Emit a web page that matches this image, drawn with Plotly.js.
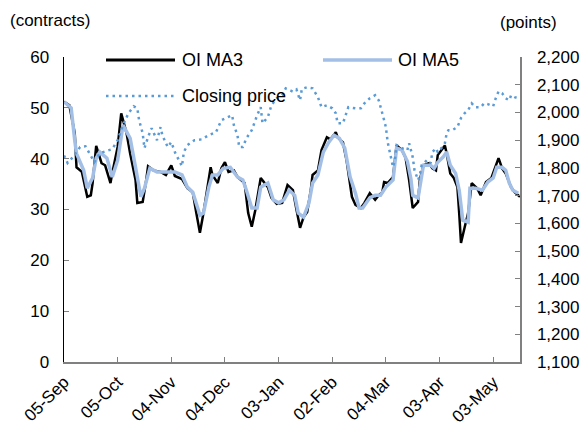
<!DOCTYPE html>
<html>
<head>
<meta charset="utf-8">
<script src="https://cdn.plot.ly/plotly-3.0.1.min.js"></script>
<style>html,body{margin:0;padding:0;background:#fff;}#chart{width:584px;height:427px;}</style>
</head>
<body>
<div id="chart"></div>
<script>
// ---- Data ----
var ma3Dates = ['2012-09-05','2012-09-08','2012-09-11','2012-09-12','2012-09-15','2012-09-18','2012-09-20','2012-09-21','2012-09-23','2012-09-26','2012-09-28','2012-10-01','2012-10-02','2012-10-05','2012-10-07','2012-10-10','2012-10-12','2012-10-15','2012-10-16','2012-10-19','2012-10-21','2012-10-22','2012-10-25','2012-10-29','2012-11-01','2012-11-04','2012-11-06','2012-11-10','2012-11-13','2012-11-16','2012-11-18','2012-11-20','2012-11-22','2012-11-24','2012-11-26','2012-11-27','2012-11-30','2012-12-02','2012-12-04','2012-12-06','2012-12-09','2012-12-11','2012-12-14','2012-12-15','2012-12-17','2012-12-19','2012-12-21','2012-12-23','2012-12-24','2012-12-28','2012-12-30','2013-01-02','2013-01-05','2013-01-08','2013-01-11','2013-01-13','2013-01-15','2013-01-17','2013-01-19','2013-01-21','2013-01-22','2013-01-25','2013-01-27','2013-01-30','2013-02-01','2013-02-04','2013-02-05','2013-02-08','2013-02-10','2013-02-13','2013-02-15','2013-02-18','2013-02-20','2013-02-23','2013-02-26','2013-02-28','2013-03-02','2013-03-03','2013-03-05','2013-03-08','2013-03-10','2013-03-13','2013-03-15','2013-03-17','2013-03-19','2013-03-22','2013-03-23','2013-03-25','2013-03-28','2013-03-30','2013-04-01','2013-04-02','2013-04-05','2013-04-06','2013-04-07','2013-04-09','2013-04-11','2013-04-13','2013-04-14','2013-04-15','2013-04-17','2013-04-19','2013-04-21','2013-04-24','2013-04-26','2013-04-29','2013-05-02','2013-05-04','2013-05-06','2013-05-08','2013-05-10','2013-05-13','2013-05-15','2013-05-18'];
var ma3Values = [51.2,50.5,45,38.3,37.4,32.5,32.8,35.2,42.5,39.1,38.7,35.2,37.2,42.3,48.9,45,41,35.8,31.3,31.5,35.8,38.5,37.7,37.4,36.8,38.7,36.6,36.0,34.2,33.4,29.3,25.4,29.3,33.8,38.3,36.8,35.2,38.1,39.3,37.4,37.7,36.4,35.4,35.2,29.3,26.6,29.9,34.4,36.2,34.4,32.3,31.1,31.3,34.8,33.8,30,26.4,28.5,29.5,33.8,36.8,37.7,41.7,44.2,43.8,45.2,44.2,43.2,39.7,32.5,30.9,30.3,31.3,33.2,31.9,32.8,33.4,35.4,35.2,36.4,42.6,41.7,40.2,35.8,30.3,31.5,35.8,38.7,39.1,38.1,37.7,40.7,42.3,42.6,41,37.1,36.2,34.4,29.3,23.4,26.4,29.3,35.2,34.2,32.8,35.4,36.2,38.1,40.1,38.1,37.1,34.4,33.4,32.5];

var ma5Dates = ['2012-09-05','2012-09-09','2012-09-11','2012-09-12','2012-09-16','2012-09-18','2012-09-21','2012-09-23','2012-09-25','2012-09-29','2012-10-02','2012-10-05','2012-10-08','2012-10-12','2012-10-15','2012-10-18','2012-10-20','2012-10-23','2012-10-27','2012-11-02','2012-11-06','2012-11-10','2012-11-13','2012-11-16','2012-11-20','2012-11-22','2012-11-25','2012-11-27','2012-11-30','2012-12-03','2012-12-07','2012-12-11','2012-12-14','2012-12-16','2012-12-19','2012-12-22','2012-12-24','2012-12-28','2012-12-31','2013-01-03','2013-01-06','2013-01-09','2013-01-12','2013-01-14','2013-01-17','2013-01-20','2013-01-22','2013-01-25','2013-01-28','2013-01-31','2013-02-03','2013-02-06','2013-02-09','2013-02-12','2013-02-15','2013-02-17','2013-02-19','2013-02-23','2013-02-26','2013-03-01','2013-03-04','2013-03-08','2013-03-10','2013-03-13','2013-03-16','2013-03-18','2013-03-19','2013-03-22','2013-03-24','2013-03-25','2013-03-29','2013-03-31','2013-04-02','2013-04-05','2013-04-07','2013-04-09','2013-04-12','2013-04-14','2013-04-16','2013-04-19','2013-04-20','2013-04-23','2013-04-27','2013-04-30','2013-05-03','2013-05-05','2013-05-08','2013-05-10','2013-05-12','2013-05-14','2013-05-17'];
var ma5Values = [51.2,50,43.6,41,37.7,34.2,36.2,40.1,41.3,40.1,36.4,39.7,46.6,44,38.3,32.5,34.2,38.1,37.4,37.4,37.4,36.8,34.4,33.4,28.9,29.3,34.4,36.8,36.8,38.1,38.3,36.4,35.8,33.8,30.3,30.3,34.4,35.2,31.9,31.3,31.9,33.8,32.8,29.3,28.5,31.3,35.2,36.8,41.3,43.2,44.6,44,42.1,36.4,33.2,30.3,30.3,32.3,32.8,32.8,34.4,35.8,42.1,41.7,39.5,36,32.8,32.3,36.4,38.7,38.7,38.1,39.3,40.3,41.3,38.7,37.1,33.8,27.9,27.5,34.2,34.2,33.8,35.4,36.2,38.3,38.3,37.7,35.2,33.8,33.2];

var closeDates = ['2012-09-05','2012-09-07','2012-09-10','2012-09-14','2012-09-17','2012-09-20','2012-09-22','2012-09-25','2012-09-29','2012-10-02','2012-10-05','2012-10-08','2012-10-11','2012-10-14','2012-10-16','2012-10-17','2012-10-19','2012-10-20','2012-10-22','2012-10-24','2012-10-27','2012-10-29','2012-10-30','2012-11-02','2012-11-04','2012-11-06','2012-11-09','2012-11-10','2012-11-11','2012-11-13','2012-11-17','2012-11-21','2012-11-25','2012-11-29','2012-12-02','2012-12-08','2012-12-09','2012-12-11','2012-12-12','2012-12-14','2012-12-16','2012-12-19','2012-12-22','2012-12-24','2012-12-25','2012-12-28','2012-12-30','2013-01-02','2013-01-05','2013-01-07','2013-01-11','2013-01-13','2013-01-15','2013-01-16','2013-01-19','2013-01-22','2013-01-25','2013-01-27','2013-01-30','2013-02-02','2013-02-04','2013-02-05','2013-02-08','2013-02-10','2013-02-11','2013-02-15','2013-02-18','2013-02-20','2013-02-23','2013-02-26','2013-02-28','2013-03-02','2013-03-04','2013-03-05','2013-03-07','2013-03-08','2013-03-09','2013-03-10','2013-03-13','2013-03-16','2013-03-17','2013-03-19','2013-03-20','2013-03-21','2013-03-22','2013-03-23','2013-03-24','2013-03-27','2013-03-29','2013-03-30','2013-04-01','2013-04-02','2013-04-04','2013-04-06','2013-04-07','2013-04-08','2013-04-10','2013-04-13','2013-04-15','2013-04-17','2013-04-19','2013-04-21','2013-04-23','2013-04-26','2013-04-28','2013-04-30','2013-05-03','2013-05-04','2013-05-06','2013-05-08','2013-05-10','2013-05-12','2013-05-13','2013-05-15','2013-05-17'];
var closeValues = [1845,1818,1839,1875,1878,1846,1821,1853,1861,1868,1900,1954,1997,2022,2015,1972,1925,1871,1911,1943,1900,1947,1918,1875,1893,1857,1818,1806,1857,1882,1900,1903,1918,1929,1972,1990,1954,1918,1875,1875,1907,1936,1990,2019,1961,1983,2026,2051,2062,2087,2075,2083,2044,2085,2091,2087,2055,2019,2026,2015,1997,1961,1961,2001,2019,2015,2015,2033,2051,2062,2044,1997,1947,1893,1839,1803,1828,1882,1871,1864,1889,1839,1792,1774,1756,1774,1810,1828,1817,1857,1871,1857,1871,1889,1925,1936,1936,1947,1980,1997,2008,2033,2019,2019,2033,2030,2022,2044,2076,2069,2051,2044,2062,2055,2051];

var tickDates = ['2012-09-05','2012-10-05','2012-11-04','2012-12-04','2013-01-03','2013-02-02','2013-03-04','2013-04-03','2013-05-03'];
var tickLabels = ['05-Sep','05-Oct','04-Nov','04-Dec','03-Jan','02-Feb','04-Mar','03-Apr','03-May'];
var seriesNames = ['OI MA3','OI MA5','Closing price'];

// ---- Styles ----
var C_MA3 = '#000000', C_MA5 = '#a3bfe6', C_CLOSE = '#5b9bd5';
var FONT = 'Liberation Sans, Arial, sans-serif';

var traces = [
  {x: ma3Dates, y: ma3Values, name: seriesNames[0], type: 'scatter', mode: 'lines', yaxis: 'y',
   line: {color: C_MA3, width: 2.5}},
  {x: ma5Dates, y: ma5Values, name: seriesNames[1], type: 'scatter', mode: 'lines', yaxis: 'y',
   line: {color: C_MA5, width: 3.5}},
  {x: closeDates, y: closeValues, name: seriesNames[2], type: 'scatter', mode: 'lines', yaxis: 'y2',
   line: {color: C_CLOSE, width: 2.5, dash: '2.5px,4px'}}
];

function px2x(p){ return (p-64)/456; }
function py2y(p){ return (362.5-p)/305.5; }

var layout = {
  width: 584, height: 427,
  margin: {l: 64, r: 64, t: 57, b: 65, pad: 0},
  paper_bgcolor: '#fff', plot_bgcolor: '#fff',
  showlegend: false,
  font: {family: FONT, size: 17, color: '#000'},
  xaxis: {
    type: 'date', range: ['2012-09-05','2013-05-18'],
    tickmode: 'array', tickvals: tickDates, ticktext: tickLabels, tickangle: -45,
    ticks: 'inside', ticklen: 5, tickcolor: '#808080',
    showline: true, linecolor: '#808080', linewidth: 1.5, showgrid: false, zeroline: false,
    ticklabelstandoff: 2,
    tickfont: {family: FONT, size: 17, color: '#000'}
  },
  yaxis: {
    range: [0, 60], tickvals: [0,10,20,30,40,50,60],
    ticks: 'inside', ticklen: 5, tickcolor: '#808080',
    showline: true, linecolor: '#000', linewidth: 1.5, showgrid: false, zeroline: false,
    ticklabelstandoff: 10,
    tickfont: {family: FONT, size: 17, color: '#000'}
  },
  yaxis2: {
    overlaying: 'y', side: 'right', range: [1100, 2200],
    tickvals: [1100,1200,1300,1400,1500,1600,1700,1800,1900,2000,2100,2200],
    tickformat: ',', ticks: 'inside', ticklen: 5, tickcolor: '#808080',
    showline: true, linecolor: '#808080', linewidth: 1.5, showgrid: false, zeroline: false,
    ticklabelstandoff: 12,
    tickfont: {family: FONT, size: 17, color: '#000'}
  },
  shapes: [
    {type: 'line', xref: 'paper', yref: 'paper', x0: px2x(106), x1: px2x(175), y0: py2y(60), y1: py2y(60),
     line: {color: C_MA3, width: 3}},
    {type: 'line', xref: 'paper', yref: 'paper', x0: px2x(323), x1: px2x(392), y0: py2y(60), y1: py2y(60),
     line: {color: C_MA5, width: 3.5}},
    {type: 'line', xref: 'paper', yref: 'paper', x0: px2x(106), x1: px2x(175), y0: py2y(96), y1: py2y(96),
     line: {color: C_CLOSE, width: 2.5, dash: '2.5px,4px'}}
  ],
  annotations: [
    {xref: 'paper', yref: 'paper', x: px2x(180), y: py2y(60), xanchor: 'left', yanchor: 'middle',
     text: seriesNames[0], showarrow: false, font: {family: FONT, size: 18, color: '#000'}},
    {xref: 'paper', yref: 'paper', x: px2x(396), y: py2y(60), xanchor: 'left', yanchor: 'middle',
     text: seriesNames[1], showarrow: false, font: {family: FONT, size: 18, color: '#000'}},
    {xref: 'paper', yref: 'paper', x: px2x(180), y: py2y(96), xanchor: 'left', yanchor: 'middle',
     text: seriesNames[2], showarrow: false, font: {family: FONT, size: 18, color: '#000'}},
    {xref: 'paper', yref: 'paper', x: px2x(8), y: py2y(20), xanchor: 'left', yanchor: 'middle',
     text: '(contracts)', showarrow: false, font: {family: FONT, size: 17, color: '#000'}},
    {xref: 'paper', yref: 'paper', x: px2x(498), y: py2y(22), xanchor: 'left', yanchor: 'middle',
     text: '(points)', showarrow: false, font: {family: FONT, size: 17, color: '#000'}}
  ]
};

Plotly.newPlot('chart', traces, layout, {staticPlot: true, displayModeBar: false});
</script>
</body>
</html>
